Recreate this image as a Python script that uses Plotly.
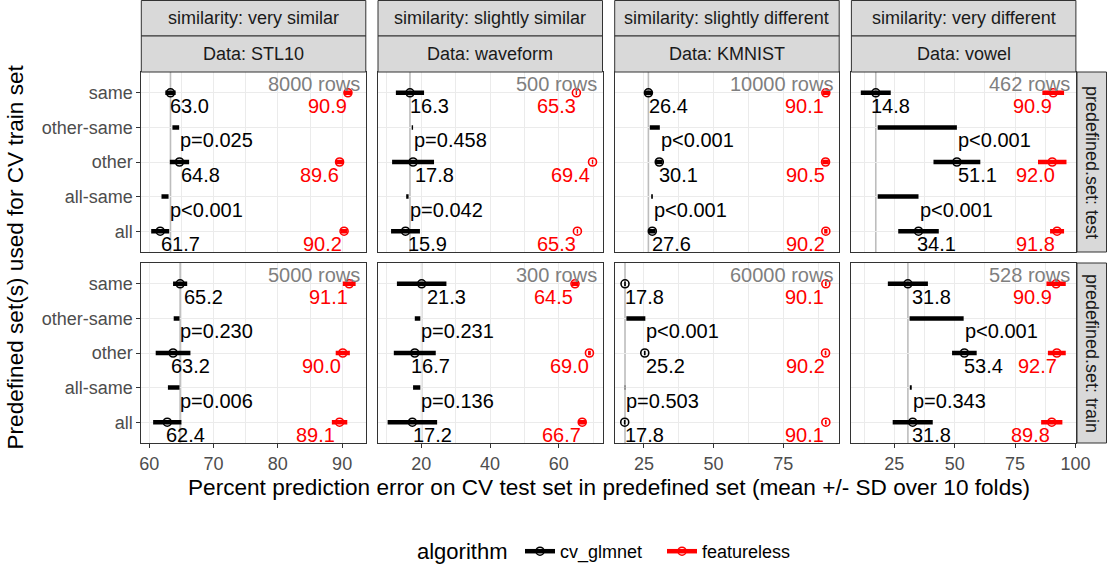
import plotly.graph_objects as go

# ---------------- data ----------------
datasets = ["STL10", "waveform", "KMNIST", "vowel"]
similarity = ["very similar", "slightly similar", "slightly different", "very different"]
predefined_sets = ["test", "train"]
categories = ["all", "all-same", "other", "other-same", "same"]   # bottom -> top
train_sets = ["same", "other", "all"]
diff_names = ["other-same", "all-same"]
algorithms = ["cv_glmnet", "featureless"]

n_rows = [[8000, 500, 10000, 462], [5000, 300, 60000, 528]]

# cv_glmnet per panel [predefined set][dataset][same, other, all]
cv_center = [
    [[63.3, 64.7, 61.7], [16.7, 17.6, 15.4], [26.6, 30.5, 28.0], [17.3, 50.9, 35.0]],
    [[64.8, 63.7, 62.8], [20.1, 18.1, 17.4], [18.2, 25.3, 18.1], [30.6, 54.0, 32.6]],
]
cv_sd = [
    [[0.8, 1.5, 1.4], [4.1, 6.1, 4.2], [1.3, 1.2, 1.2], [6.2, 9.7, 8.4]],
    [[1.1, 2.7, 2.2], [7.2, 6.1, 7.2], [0.3, 0.3, 0.3], [8.3, 5.1, 8.3]],
]
cv_label = [
    [[63.0, 64.8, 61.7], [16.3, 17.8, 15.9], [26.4, 30.1, 27.6], [14.8, 51.1, 34.1]],
    [[65.2, 63.2, 62.4], [21.3, 16.7, 17.2], [17.8, 25.2, 17.8], [31.8, 53.4, 31.8]],
]
# featureless
fl_center = [
    [[90.9, 89.6, 90.3], [65.1, 69.8, 65.4], [90.3, 90.2, 90.3], [90.8, 90.4, 92.4]],
    [[91.1, 90.1, 89.6], [64.7, 68.9, 66.8], [90.3, 90.2, 90.3], [92.0, 92.3, 90.2]],
]
fl_sd = [
    [[0.6, 0.6, 0.5], [0.2, 0.2, 0.2], [1.2, 1.2, 0.6], [4.5, 5.9, 2.9]],
    [[1.0, 1.1, 1.2], [0.9, 0.4, 1.1], [0.3, 0.3, 0.3], [4.0, 3.7, 4.4]],
]
fl_label = [
    [[90.9, 89.6, 90.2], [65.3, 69.4, 65.3], [90.1, 90.5, 90.2], [90.9, 92.0, 91.8]],
    [[91.1, 90.0, 89.1], [64.5, 69.0, 66.7], [90.1, 90.2, 90.1], [90.9, 92.7, 89.8]],
]
# difference segments [other-same, all-same]
diff_lo = [
    [[63.6, 61.9], [17.2, 15.6], [27.1, 27.6], [18.1, 18.1]],
    [[63.8, 62.9], [18.1, 17.6], [18.7, 18.1], [31.3, 31.4]],
]
diff_hi = [
    [[64.65, 63.0], [17.6, 16.3], [30.7, 28.2], [50.9, 35.0]],
    [[64.7, 64.7], [19.7, 19.7], [25.5, 18.3], [53.7, 32.2]],
]
p_text = [
    [["p=0.025", "p<0.001"], ["p=0.458", "p=0.042"], ["p<0.001", "p<0.001"], ["p<0.001", "p<0.001"]],
    [["p=0.230", "p=0.006"], ["p=0.231", "p=0.136"], ["p<0.001", "p=0.503"], ["p<0.001", "p=0.343"]],
]
x_tick_step = [10, 20, 25, 25]
x_tick_first = [60, 20, 25, 25]
x_ranges = [[58.76, 93.68], [7.4, 72.7], [14.5, 95.1], [7.2, 100.2]]

# ---------------- geometry / style ----------------
W, H = 1107, 565
FONT = "Liberation Sans, Arial, sans-serif"
col_x0 = [141.3, 378.0, 614.7, 851.4]
col_w = 224.5
row_y0 = [72.0, 263.0]
row_h = 180.0
BLACK, RED = "#000000", "#FF0000"
GRID = "#EBEBEB"
BORDER = "#333333"

def px(x):
    return x / W

def py(y):
    return 1 - y / H

fig = go.Figure()
annotations = []
shapes = []
layout = {}

cat_idx = {c: i for i, c in enumerate(categories)}

for r in range(2):
    for c in range(4):
        k = r * 4 + c + 1
        xn = "x" if k == 1 else f"x{k}"
        yn = "y" if k == 1 else f"y{k}"
        xkey = "xaxis" if k == 1 else f"xaxis{k}"
        ykey = "yaxis" if k == 1 else f"yaxis{k}"

        layout[xkey] = dict(
            domain=[px(col_x0[c]), px(col_x0[c] + col_w)],
            anchor=yn, range=x_ranges[c], automargin=False,
            tickmode="linear", tick0=x_tick_first[c], dtick=x_tick_step[c],
            showgrid=True, gridcolor=GRID, gridwidth=1.3,
            minor=dict(tick0=x_tick_first[c], dtick=x_tick_step[c] / 2,
                       showgrid=True, gridcolor=GRID, gridwidth=0.7),
            showline=True, mirror=True, linecolor=BORDER, linewidth=1,
            zeroline=False,
            showticklabels=(r == 1),
            ticks="outside" if r == 1 else "", ticklen=4, tickcolor=BORDER, tickwidth=1,
            tickfont=dict(family=FONT, size=18, color="#4D4D4D"),
        )
        layout[ykey] = dict(
            domain=[py(row_y0[r] + row_h), py(row_y0[r])],
            anchor=xn, type="category", categoryorder="array", categoryarray=categories,
            range=[-0.6, len(categories) - 0.4], automargin=False,
            showgrid=True, gridcolor=GRID, gridwidth=1.3,
            showline=True, mirror=True, linecolor=BORDER, linewidth=1,
            zeroline=False,
            showticklabels=(c == 0),
            ticks="outside" if c == 0 else "", ticklen=4, tickcolor=BORDER, tickwidth=1,
            tickfont=dict(family=FONT, size=18, color="#4D4D4D"),
        )

        # reference line at cv_glmnet "same"
        shapes.append(dict(type="line", xref=xn, yref=f"{yn} domain",
                           x0=cv_center[r][c][0], x1=cv_center[r][c][0], y0=0, y1=1,
                           line=dict(color="#BDBDBD", width=1.6), layer="below"))

        # error bars
        for centers, sds, col in ((cv_center, cv_sd, BLACK), (fl_center, fl_sd, RED)):
            xs, ys = [], []
            for i, s in enumerate(train_sets):
                m, d = centers[r][c][i], sds[r][c][i]
                xs += [m - d, m + d, None]
                ys += [s, s, None]
            fig.add_trace(go.Scatter(x=xs, y=ys, mode="lines", xaxis=xn, yaxis=yn,
                                     line=dict(color=col, width=4.5), showlegend=False,
                                     hoverinfo="skip"))
        # difference segments
        xs, ys = [], []
        for j, dn in enumerate(diff_names):
            xs += [diff_lo[r][c][j], diff_hi[r][c][j], None]
            ys += [dn, dn, None]
        fig.add_trace(go.Scatter(x=xs, y=ys, mode="lines", xaxis=xn, yaxis=yn,
                                 line=dict(color=BLACK, width=4.5), showlegend=False,
                                 hoverinfo="skip"))
        # points
        for centers, col in ((cv_center, BLACK), (fl_center, RED)):
            fig.add_trace(go.Scatter(x=centers[r][c], y=train_sets, mode="markers",
                                     xaxis=xn, yaxis=yn, showlegend=False,
                                     marker=dict(symbol="circle-open", size=8, color=col,
                                                 line=dict(width=1.6, color=col))))

        # labels
        for i, s in enumerate(train_sets):
            annotations.append(dict(xref=xn, yref=yn, x=cv_label[r][c][i], y=cat_idx[s],
                                    text=f"{cv_label[r][c][i]:.1f}", showarrow=False,
                                    xanchor="left", yanchor="top", borderpad=0, yshift=-1,
                                    font=dict(family=FONT, size=20, color=BLACK)))
            annotations.append(dict(xref=xn, yref=yn, x=fl_label[r][c][i], y=cat_idx[s],
                                    text=f"{fl_label[r][c][i]:.1f}", showarrow=False,
                                    xanchor="right", yanchor="top", borderpad=0, yshift=-1,
                                    font=dict(family=FONT, size=20, color=RED)))
        for j, dn in enumerate(diff_names):
            annotations.append(dict(xref=xn, yref=yn, x=diff_hi[r][c][j], y=cat_idx[dn],
                                    text=p_text[r][c][j], showarrow=False,
                                    xanchor="left", yanchor="top", borderpad=0, yshift=-1,
                                    font=dict(family=FONT, size=20, color=BLACK)))
        annotations.append(dict(xref=f"{xn} domain", yref=yn, x=1, y=cat_idx["same"],
                                text=f"{n_rows[r][c]} rows", showarrow=False,
                                xanchor="right", yanchor="bottom", borderpad=0,
                                xshift=-5, yshift=-3,
                                font=dict(family=FONT, size=20, color="#7F7F7F")))

# strips (top)
for c in range(4):
    x0, x1 = col_x0[c], col_x0[c] + col_w
    for (y0, y1, txt) in ((0.5, 36, f"similarity: {similarity[c]}"),
                          (36, 72, f"Data: {datasets[c]}")):
        shapes.append(dict(type="rect", xref="paper", yref="paper",
                           x0=px(x0), x1=px(x1), y0=py(y1), y1=py(y0),
                           fillcolor="#D9D9D9", line=dict(color=BORDER, width=1)))
        annotations.append(dict(xref="paper", yref="paper", x=px((x0 + x1) / 2),
                                y=py((y0 + y1) / 2), text=txt, showarrow=False,
                                xanchor="center", yanchor="middle",
                                font=dict(family=FONT, size=18, color="#1A1A1A")))
# strips (right)
for r in range(2):
    y0, y1 = row_y0[r], row_y0[r] + row_h
    shapes.append(dict(type="rect", xref="paper", yref="paper",
                       x0=px(1077), x1=px(1106.5), y0=py(y1), y1=py(y0),
                       fillcolor="#D9D9D9", line=dict(color=BORDER, width=1)))
    annotations.append(dict(xref="paper", yref="paper", x=px(1092), y=py((y0 + y1) / 2),
                            text=f"predefined.set: {predefined_sets[r]}", showarrow=False,
                            textangle=90, xanchor="center", yanchor="middle",
                            font=dict(family=FONT, size=18, color="#1A1A1A")))

# axis titles
annotations.append(dict(xref="paper", yref="paper", x=px(608.5), y=py(487),
                        text="Percent prediction error on CV test set in predefined set (mean +/- SD over 10 folds)",
                        showarrow=False, xanchor="center", yanchor="middle",
                        font=dict(family=FONT, size=22.6, color="#000000")))
annotations.append(dict(xref="paper", yref="paper", x=px(15), y=py(257.5),
                        text="Predefined set(s) used for CV train set",
                        showarrow=False, textangle=-90, xanchor="center", yanchor="middle",
                        font=dict(family=FONT, size=22.6, color="#000000")))
# legend title
annotations.append(dict(xref="paper", yref="paper", x=px(416), y=py(551.5),
                        text="algorithm", showarrow=False, xanchor="left", yanchor="middle",
                        borderpad=0, font=dict(family=FONT, size=22, color="#000000")))

# legend entries
for name, col in zip(algorithms, (BLACK, RED)):
    fig.add_trace(go.Scatter(x=[None], y=[None], mode="lines+markers", name=name,
                             line=dict(color=col, width=4.5),
                             marker=dict(symbol="circle-open", size=8, color=col,
                                         line=dict(width=1.6, color=col))))

fig.update_layout(
    width=W, height=H, autosize=False,
    margin=dict(l=0, r=0, t=0, b=0, pad=0, autoexpand=False),
    paper_bgcolor="white", plot_bgcolor="white",
    font=dict(family=FONT, size=18, color="#000000"),
    annotations=annotations, shapes=shapes,
    legend=dict(orientation="h", x=px(520), xanchor="left", y=py(551.5), yanchor="middle",
                font=dict(family=FONT, size=18, color="#000000"),
                itemwidth=30, entrywidth=97, bgcolor="rgba(0,0,0,0)"),
    **layout,
)

fig.write_html("out.html", config={"displayModeBar": False},
               post_script="document.body.style.margin='0px';document.body.style.overflow='hidden';")
